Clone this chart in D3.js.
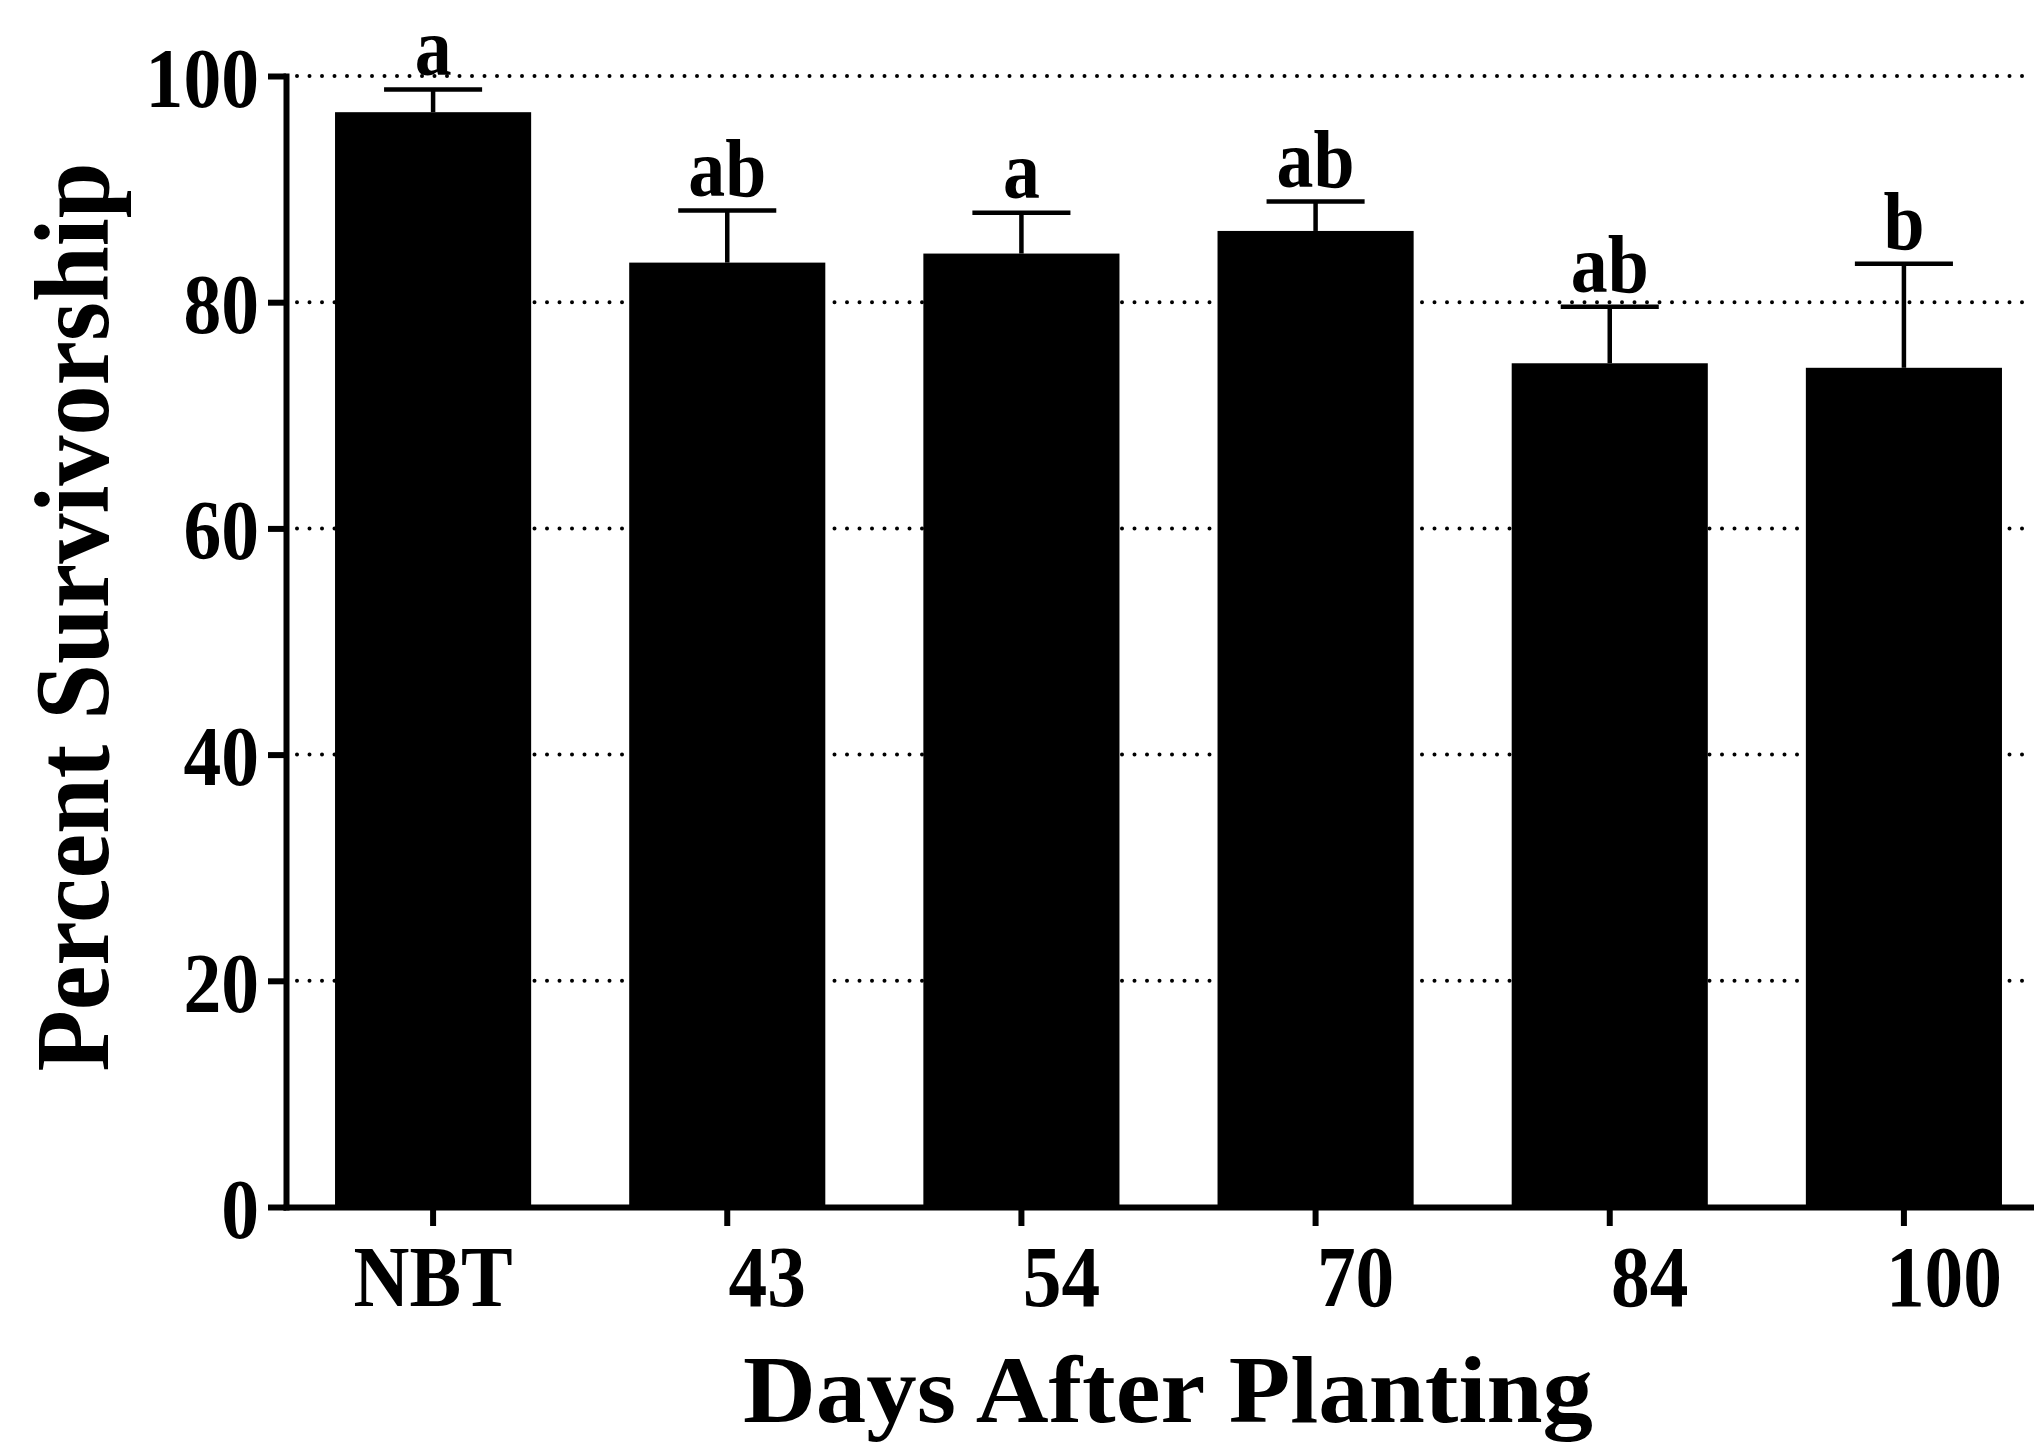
<!DOCTYPE html>
<html>
<head>
<meta charset="utf-8">
<script src="https://cdn.jsdelivr.net/npm/d3@7"></script>
<style>
  body { margin: 0; background: #fff; }
  svg { display: block; }
  text { font-family: "Liberation Serif", "Times New Roman", serif; font-weight: bold; fill: #000; }
</style>
</head>
<body>
<svg id="chart" width="2034" height="1445"></svg>
<script>
// data
const days = ["NBT", "43", "54", "70", "84", "100"];
const survival = [96.8, 83.5, 84.3, 86.3, 74.6, 74.2];
const sem = [2.0, 4.6, 3.6, 2.6, 5.0, 9.2];
const letters = ["a", "ab", "a", "ab", "ab", "b"];
const yTicks = [0, 20, 40, 60, 80, 100];

const svg = d3.select("#chart");
svg.append("rect").attr("width", 2034).attr("height", 1445).attr("fill", "#fff");

const x = d3.scaleBand()
  .domain(days)
  .range([286, 2051])
  .paddingInner(1 / 3)
  .paddingOuter(1 / 6);
const y = d3.scaleLinear().domain([0, 100]).range([1207, 76]);

// dotted grid lines, behind the bars
svg.append("g")
  .selectAll("line")
  .data(yTicks.filter(d => d > 0))
  .enter().append("line")
  .attr("x1", 297)
  .attr("x2", 2034)
  .attr("y1", d => y(d))
  .attr("y2", d => y(d))
  .attr("stroke", "#000")
  .attr("stroke-width", 4)
  .attr("stroke-linecap", "round")
  .attr("stroke-dasharray", "0 12.5");

// bars
svg.append("g")
  .selectAll("rect")
  .data(days)
  .enter().append("rect")
  .attr("x", d => x(d))
  .attr("y", (d, i) => y(survival[i]))
  .attr("width", x.bandwidth())
  .attr("height", (d, i) => y(0) - y(survival[i]))
  .attr("fill", "#000");

// error bars (upper only)
const err = svg.append("g").attr("stroke", "#000").attr("stroke-width", 4.5);
days.forEach(function (d, i) {
  const cx = x(d) + x.bandwidth() / 2;
  const top = y(survival[i] + sem[i]);
  err.append("line")
    .attr("x1", cx).attr("x2", cx)
    .attr("y1", y(survival[i])).attr("y2", top);
  err.append("line")
    .attr("x1", cx - x.bandwidth() / 4).attr("x2", cx + x.bandwidth() / 4)
    .attr("y1", top).attr("y2", top);
});

// significance letters
svg.append("g")
  .selectAll("text")
  .data(days)
  .enter().append("text")
  .attr("transform", (d, i) =>
    `translate(${x(d) + x.bandwidth() / 2},${y(survival[i] + sem[i]) - 15}) scale(0.9,1)`)
  .attr("text-anchor", "middle")
  .attr("font-size", 82)
  .text((d, i) => letters[i]);

// axes
const xAxis = svg.append("g")
  .attr("transform", `translate(0,${y(0)})`)
  .call(d3.axisBottom(x).tickSize(19).tickSizeOuter(0).tickPadding(19));

const yAxis = svg.append("g")
  .attr("transform", "translate(286,0)")
  .call(d3.axisLeft(y).tickValues(yTicks).tickSize(18).tickSizeOuter(0).tickPadding(9));

[xAxis, yAxis].forEach(function (a) {
  a.select(".domain").attr("stroke", "#000").attr("stroke-width", 6).attr("stroke-linecap", "square");
  a.selectAll(".tick line").attr("stroke", "#000").attr("stroke-width", 6);
  a.selectAll(".tick text")
    .style("font-family", '"Liberation Serif", "Times New Roman", serif')
    .style("font-weight", "bold")
    .attr("font-size", 86)
    .attr("fill", "#000");
});

// numeric day labels sit to the right of their ticks in the original
xAxis.selectAll(".tick text")
  .attr("x", d => (d === "NBT" ? 0 : 40 / 0.9))
  .attr("transform", "scale(0.9,1)");

yAxis.selectAll(".tick text")
  .attr("font-size", 84)
  .attr("x", -27 / 0.9)
  .attr("dy", "0.36em")
  .attr("transform", "scale(0.9,1)");

// axis titles
svg.append("text")
  .attr("x", 1168)
  .attr("y", 1422)
  .attr("text-anchor", "middle")
  .attr("font-size", 96)
  .attr("textLength", 850)
  .attr("lengthAdjust", "spacingAndGlyphs")
  .text("Days After Planting");

svg.append("text")
  .attr("transform", "translate(108,617) rotate(-90)")
  .attr("text-anchor", "middle")
  .attr("font-size", 106)
  .attr("textLength", 909)
  .attr("lengthAdjust", "spacingAndGlyphs")
  .text("Percent Survivorship");
</script>
</body>
</html>
